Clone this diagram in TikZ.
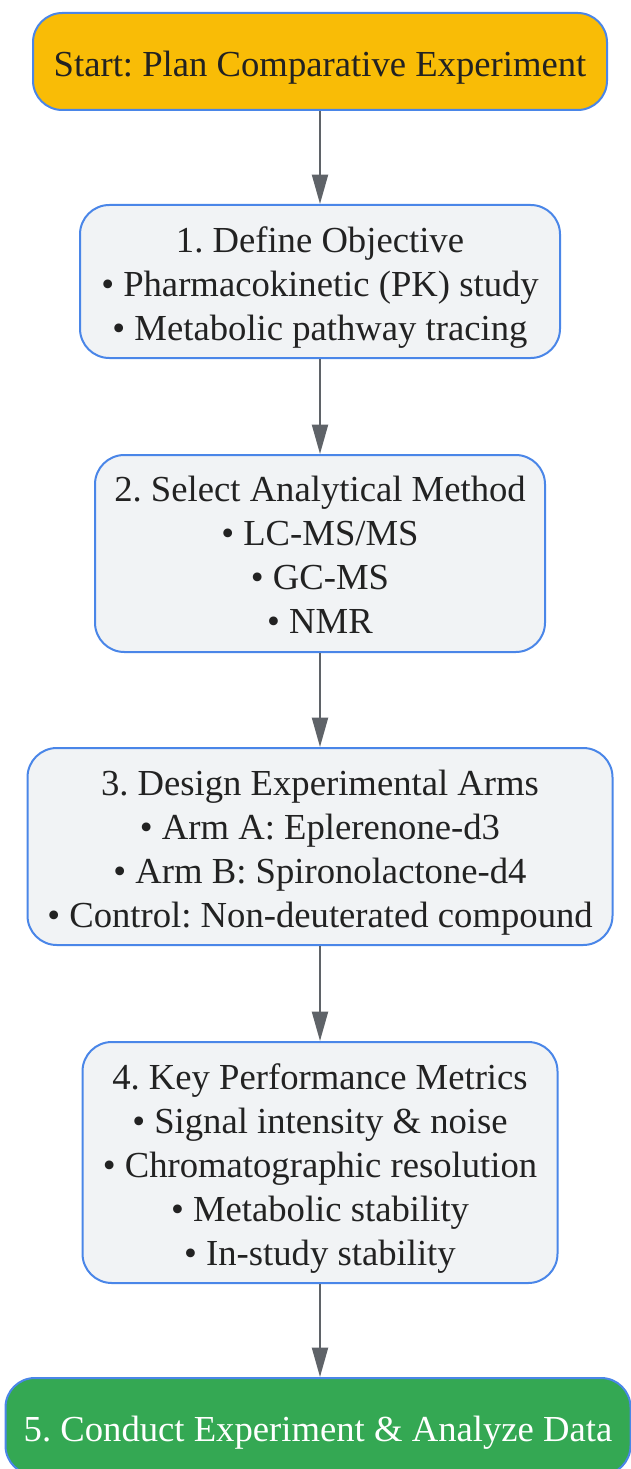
\documentclass[tikz,border=0pt]{standalone}
\usepackage{fontspec}
\setmainfont{Liberation Serif}
\usetikzlibrary{arrows.meta}
\definecolor{startfill}{HTML}{F9BC06}
\definecolor{endfill}{HTML}{34A853}
\definecolor{boxfill}{HTML}{F1F3F5}
\definecolor{boxline}{HTML}{4A86E8}
\definecolor{arrowgray}{HTML}{5F6368}
\definecolor{textdark}{HTML}{222222}
\frenchspacing
\newcommand{\topstrut}{\rule{0pt}{28pt}}
\newcommand{\botstrut}{\rule[-6.5pt]{0pt}{6.5pt}}

\begin{document}
\begin{tikzpicture}[x=0.75pt,y=-0.75pt,
	stepbox/.style={draw=boxline,line width=1.5pt,fill=boxfill,rounded corners=22pt,
		align=center,text=textdark,font=\fontsize{27.5}{33}\selectfont,inner sep=0pt},
	flow/.style={draw=arrowgray,line width=1.5pt,-{Triangle[length=22pt,width=12pt]}}]
	% Rahmen
	\useasboundingbox (0,0) rectangle (631,1469);
	% Knoten
	\node[stepbox,fill=startfill,minimum width=574*0.75pt,minimum height=97*0.75pt] (start) at (320,61.5)
		{\topstrut Start: Plan Comparative Experiment};
	\node[stepbox,minimum width=480*0.75pt,minimum height=153*0.75pt] (objective) at (320,281.5)
		{\topstrut 1. Define Objective\\ • Pharmacokinetic (PK) study\\ • Metabolic pathway tracing};
	\node[stepbox,minimum width=450*0.75pt,minimum height=197*0.75pt] (method) at (320,553.5)
		{\topstrut 2. Select Analytical Method\\ • LC-MS/MS\\ • GC-MS\\ • NMR\botstrut};
	\node[stepbox,minimum width=585*0.75pt,minimum height=197*0.75pt] (arms) at (320,846.5)
		{\topstrut 3. Design Experimental Arms\\ • Arm A: Eplerenone-d3\\ • Arm B: Spironolactone-d4\\ • Control: Non-deuterated compound};
	\node[stepbox,minimum width=475*0.75pt,minimum height=241*0.75pt] (metrics) at (320,1162.5)
		{\topstrut 4. Key Performance Metrics\\ • Signal intensity \& noise\\ • Chromatographic resolution\\ • Metabolic stability\\ • In-study stability};
	\node[stepbox,fill=endfill,text=white,minimum width=625*0.75pt,minimum height=97*0.75pt] (analyze) at (318,1426.5)
		{\topstrut 5. Conduct Experiment \& Analyze Data};
	% Pfeile
	\draw[flow] (start) -- (objective);
	\draw[flow] (objective) -- (method);
	\draw[flow] (method) -- (arms);
	\draw[flow] (arms) -- (metrics);
	\draw[flow] (metrics) -- (metrics |- analyze.north);
\end{tikzpicture}
\end{document}
